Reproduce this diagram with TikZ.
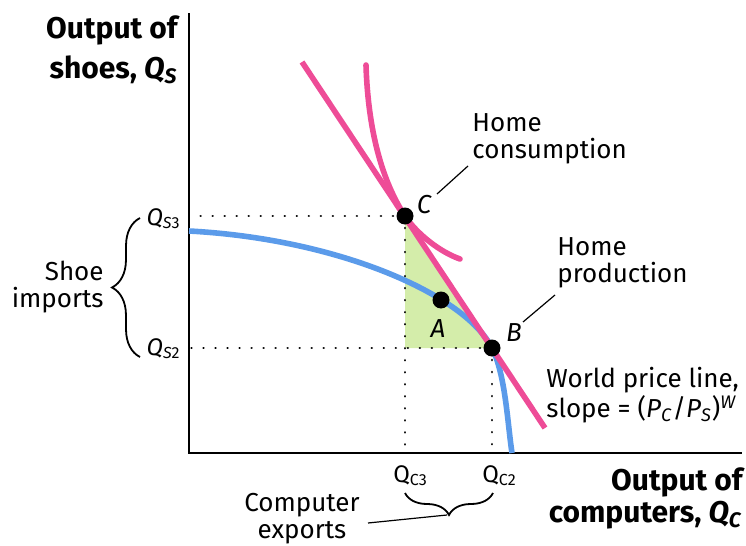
\documentclass[tikz,border=0pt]{standalone}
\usepackage{fontspec}
\setmainfont{Fira Sans}
\usetikzlibrary{decorations.pathreplacing}
\definecolor{pinkc}{HTML}{EE4C97}
\definecolor{bluec}{HTML}{5B9BEA}
\definecolor{greenc}{HTML}{D4EDAA}
\begin{document}
\begin{tikzpicture}[x=0.5pt,y=-0.5pt,
  reg/.style={font=\fontsize{13}{13.5}\selectfont, inner sep=0pt},
  bld/.style={font=\fontsize{15}{20}\selectfont\bfseries, inner sep=0pt},
  qlab/.style={font=\fontsize{12}{13}\selectfont, inner sep=0pt},
  ptlab/.style={font=\fontsize{13}{14}\selectfont\itshape, inner sep=0pt},
  dot/.style={circle, fill=black, minimum size=8.5pt, inner sep=0pt},
  dotline/.style={line width=1.3pt, dash pattern=on 0.01pt off 6pt, line cap=round},
  leader/.style={line width=0.6pt},
  curveline/.style={line width=2.8pt},
  bracestyle/.style={line width=0.9pt, decorate}
]
\useasboundingbox (0,0) rectangle (746,546);

% key points
\coordinate (O) at (189,453);
\coordinate (ytop) at (189,13);
\coordinate (xend) at (742,453);
\coordinate (Cp) at (405,216);
\coordinate (Bp) at (492,348);
\coordinate (Ap) at (441,300);
\coordinate (G) at (405,348);

% green triangle
\fill[greenc] (Cp) -- (G) -- (Bp) -- cycle;

% dotted guides
\draw[dotline] (Cp) -- (Cp -| O);
\draw[dotline] (Cp) -- (Cp |- O);
\draw[dotline] (Bp) -- (Bp -| O);
\draw[dotline] (Bp) -- (Bp |- O);

% axes
\draw[line width=1pt] (ytop) -- (O) -- (xend);

% PPF (blue)
\coordinate (ppf1) at (189,231);
\coordinate (ppf2) at (512,453);
\draw[curveline, bluec] (ppf1) .. controls (339,239) and (465,294.6) .. (Bp)
   .. controls (505.5,374.7) and (507.5,423.3) .. (ppf2);

% indifference curve (pink)
\coordinate (ic1) at (366,65);
\coordinate (ic2) at (460,259);
\draw[curveline, pinkc, line cap=round] (ic1) .. controls (368,130) and (382,181) .. (Cp)
   .. controls (417,234) and (440,252) .. (ic2);

% world price line (pink)
\coordinate (pl1) at (302,62);
\coordinate (pl2) at (545,428);
\draw[curveline, pinkc] (pl1) -- (pl2);

% dots
\node[dot] (C) at (Cp) {};
\node[dot] (B) at (Bp) {};
\node[dot] (A) at (Ap) {};

% point labels
\node[ptlab] (Clab) at (424,205) {C};
\node[ptlab] (Alab) at (438,329) {A};
\node[ptlab] (Blab) at (514,333) {B};

% axis titles
\node[bld, align=right, anchor=north east] (ytitle) at (178,15)
  {Output of\\shoes, \textit{Q}\textsubscript{\textit{S}}};
\node[bld, align=right, anchor=north east] (xtitle) at (743,467)
  {Output of\\[-4pt]computers, \textit{Q}\textsubscript{\textit{C}}};

% annotations
\node[reg, align=left, anchor=north west] (homecons) at (472,113) {Home\\consumption};
\node[reg, align=left, anchor=north west] (homeprod) at (557,237) {Home\\production};
\node[reg, align=left, anchor=north west] (world) at (546,367)
  {World price line,\\slope = (\textit{P}\textsubscript{\textit{C}}/\textit{P}\textsubscript{\textit{S}})\textsuperscript{\textit{W}}};
\node[reg, align=right, anchor=north east] (shoeimp) at (104,261) {Shoe\\imports};
\node[reg, align=center, anchor=north] (compexp) at (302,493) {Computer\\exports};

% quantity labels
\node[qlab, anchor=base east] (QS3) at (181,225) {\textit{Q}\textsubscript{\textit{S}3}};
\node[qlab, anchor=base east] (QS2) at (181,355) {\textit{Q}\textsubscript{\textit{S}2}};
\node[qlab, anchor=base west] (QC3) at (393,482) {Q\textsubscript{C3}};
\node[qlab, anchor=base west] (QC2) at (482,482) {Q\textsubscript{C2}};

% leaders
\coordinate (hcA) at (437,194);
\coordinate (hcB) at (468,166);
\draw[leader] (hcA) -- (hcB);
\coordinate (hpA) at (523,322);
\coordinate (hpB) at (555,295);
\draw[leader] (hpA) -- (hpB);
\coordinate (ceA) at (368,523);
\coordinate (ceB) at (447,515);
\draw[leader] (ceA) -- (ceB);

% braces
\coordinate (sb1) at (140,357);
\coordinate (sb2) at (140,218);
\draw[bracestyle, decoration={brace, amplitude=14pt}] (sb1) -- (sb2);
\coordinate (cb1) at (493,493);
\coordinate (cb2) at (405,493);
\draw[bracestyle, decoration={brace, amplitude=11pt}] (cb1) -- (cb2);
\end{tikzpicture}
\end{document}
